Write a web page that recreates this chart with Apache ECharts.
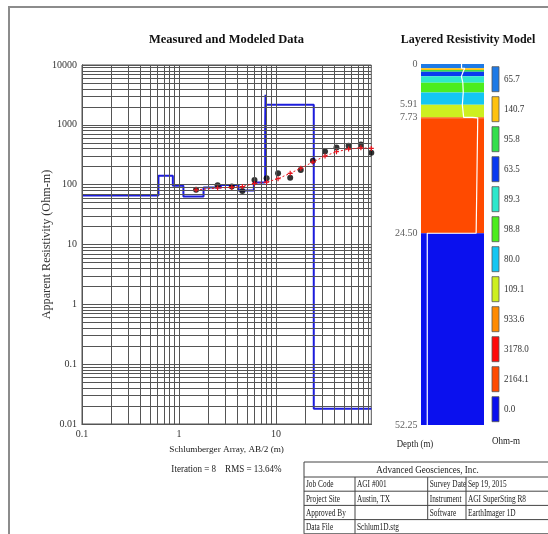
<!DOCTYPE html>
<html>
<head>
<meta charset="utf-8">
<style>
  html, body { margin: 0; padding: 0; background: #fff; }
  #chart { width: 548px; height: 534px; }
</style>
<script src="https://cdn.jsdelivr.net/npm/echarts@6/dist/echarts.min.js"></script>
</head>
<body>
<div id="chart"></div>
<script>
// Schlumberger sounding: electrode half-spacing AB/2 (m)
const ab2 = [1.5, 2.5, 3.5, 4.5, 6, 8, 10.5, 14, 18, 24, 32, 42, 56, 75, 96];
// Measured apparent resistivity (Ohm-m)
const measured = [82, 98, 93, 78, 120, 128, 155, 131, 176, 251, 360, 420, 447, 471, 341];
// Modeled apparent resistivity (Ohm-m)
const modeled = [82, 88, 90, 93, 105, 110, 126, 155, 188, 239, 301, 355, 393, 413, 404];

// Inverted layer model: resistivity (Ohm-m) and layer bottoms (m)
const layerRho = [65.7, 140.7, 95.8, 63.5, 89.3, 98.8, 80.0, 109.1, 933.6, 3178.0, 2164.1, 0.018];
const layerBottom = [0.614, 0.864, 1.11, 1.79, 2.70, 4.11, 5.91, 7.73, 7.79, 7.86, 24.50];
const modelDepth = 52.25;
const depthLabels = [0, 5.91, 7.73, 24.50, 52.25];
const layerColors = ['#1e7ae6', '#ffc20e', '#34df4c', '#0a3af0', '#2ee8cc', '#4ced1e',
                     '#14c6f2', '#cdef20', '#ff8a00', '#ff0a0a', '#ff4a00', '#0a10ee'];

// Axis tick labels for the sounding plot
const rhoTicks = ['0.01', '0.1', '1', '10', '100', '1000', '10000'];
const abTicks = ['0.1', '1', '10'];

// Title block
const companyName = 'Advanced Geosciences, Inc.';
const infoRows = [
  ['Job Code', 'AGI #001', 'Survey Date', 'Sep 19, 2015'],
  ['Project Site', 'Austin, TX', 'Instrument', 'AGI SuperSting R8'],
  ['Approved By', '', 'Software', 'EarthImager 1D'],
  ['Data File', 'Schlum1D.stg']
];
const iterationText = 'Iteration = 8    RMS = 13.64%';

const SERIF = '"Liberation Serif", "Times New Roman", serif';
const xMin = 0.1;
const xMax = Math.max(...ab2);
const yMin = 0.01, yMax = 10000;

// log-paper grid lines (1..9 x each decade)
const vLines = [], hLines = [];
for (let k = -1; k <= 2; k++) {
  for (let m = 1; m <= 9; m++) {
    const v = m * Math.pow(10, k);
    if (v >= xMin - 1e-9 && v <= xMax) vLines.push({ xAxis: v });
  }
}
for (let k = -2; k <= 4; k++) {
  for (let m = 1; m <= 9; m++) {
    const v = m * Math.pow(10, k);
    if (v >= yMin - 1e-12 && v <= yMax + 1e-9) hLines.push({ yAxis: v });
  }
}

function decadeLabel(list) {
  return function (v) {
    const l = Math.log10(v);
    if (Math.abs(l - Math.round(l)) > 1e-6) return '';
    const s = l < 0 ? v.toFixed(-Math.round(l)) : String(Math.round(v));
    return list.indexOf(s) >= 0 ? s : '';
  };
}

// Step curve of the layer model on the sounding plot
const stepPts = [];
for (let i = 0; i < layerRho.length; i++) {
  const top = i === 0 ? xMin : layerBottom[i - 1];
  const bot = i < layerBottom.length ? layerBottom[i] : xMax;
  stepPts.push([top, layerRho[i]], [bot, layerRho[i]]);
}

// Column: layers by depth, plus white resistivity trace
const lo = Math.min(...layerRho), hi = Math.max(...layerRho);
const padF = Math.pow(10, 0.65);
const x2Min = lo / padF, x2Max = hi * padF;
const colItems = [], tracePts = [];
for (let i = 0; i < layerRho.length; i++) {
  const top = i === 0 ? 0 : layerBottom[i - 1];
  const bot = i < layerBottom.length ? layerBottom[i] : modelDepth;
  colItems.push([top, bot, i]);
  tracePts.push([layerRho[i], top], [layerRho[i], bot]);
}

// narrow serif text helper
function label(x, y, text, size, opts) {
  opts = opts || {};
  return {
    type: 'text', x: x, y: y, scaleX: opts.sx || 1, silent: true,
    style: {
      text: text, font: (opts.bold ? 'bold ' : '') + size + 'px ' + SERIF,
      fill: opts.fill || '#222', align: opts.align || 'left', verticalAlign: 'middle'
    }
  };
}

const graphics = [];
graphics.push({
  type: 'polyline', silent: true,
  shape: { points: [[9, 534], [9, 7], [548, 7]] },
  style: { stroke: '#8c8c8c', lineWidth: 2, fill: null }
});
graphics.push(label(226.5, 40, 'Measured and Modeled Data', 12.5, { bold: true, align: 'center', fill: '#111' }));
graphics.push(label(468, 40, 'Layered Resistivity Model', 12.5, { bold: true, align: 'center', fill: '#111', sx: 0.96 }));
graphics.push(label(226.5, 469, iterationText, 10.5, { align: 'center', sx: 0.86 }));
graphics.push(label(415, 444, 'Depth (m)', 10.5, { align: 'center', sx: 0.84 }));
graphics.push(label(506, 441, 'Ohm-m', 10.5, { align: 'center', sx: 0.86 }));

layerRho.forEach(function (r, i) {
  const y = 66.7 + 30 * i;
  graphics.push({ type: 'rect', silent: true, shape: { x: 492, y: y, width: 7, height: 25 }, style: { fill: layerColors[i], stroke: '#555', lineWidth: 0.8 } });
  graphics.push(label(504, y + 12.5, r.toFixed(1), 10.5, { fill: '#333', sx: 0.86 }));
});

// info table
const tLeft = 304, tTop = 462, tRight = 560;
const colX = [304, 355, 427.7, 466];
const headH = 15, rowH = 14.2;
const tableSx = 0.7;
graphics.push({ type: 'rect', silent: true, shape: { x: tLeft, y: tTop, width: tRight - tLeft, height: headH + rowH * infoRows.length }, style: { fill: '#fff', stroke: '#444', lineWidth: 1 } });
graphics.push(label(427.5, tTop + headH / 2 + 0.5, companyName, 10.5, { align: 'center', sx: 0.86 }));
infoRows.forEach(function (row, r) {
  const y = tTop + headH + rowH * r;
  graphics.push({ type: 'line', silent: true, shape: { x1: tLeft, y1: y, x2: tRight, y2: y }, style: { stroke: '#444', lineWidth: 1 } });
  row.forEach(function (cell, c) {
    if (c > 0) {
      graphics.push({ type: 'line', silent: true, shape: { x1: colX[c], y1: y, x2: colX[c], y2: y + rowH }, style: { stroke: '#444', lineWidth: 1 } });
    }
    graphics.push(label(colX[c] + 2, y + rowH / 2 + 0.5, cell, 10.5, { sx: tableSx }));
  });
});

const chart = echarts.init(document.getElementById('chart'), null, { renderer: 'canvas' });
chart.setOption({
  animation: false,
  backgroundColor: '#fff',
  grid: [
    { left: 82, top: 65, width: 289.3, height: 359, show: true, borderColor: '#555', borderWidth: 1, backgroundColor: '#fff' },
    { left: 421, top: 64, width: 63, height: 361, show: false }
  ],
  xAxis: [
    {
      type: 'log', gridIndex: 0, min: xMin, max: xMax, logBase: 10,
      name: 'Schlumberger Array, AB/2 (m)', nameLocation: 'middle', nameGap: 21,
      nameTextStyle: { fontFamily: SERIF, fontSize: 9.2, color: '#222' },
      axisLine: { show: true, lineStyle: { color: '#222' } },
      axisTick: { show: false },
      splitLine: { show: false },
      axisLabel: { formatter: decadeLabel(abTicks), fontFamily: SERIF, fontSize: 10, color: '#333', margin: 5, hideOverlap: false }
    },
    { type: 'log', gridIndex: 1, min: x2Min, max: x2Max, show: false }
  ],
  yAxis: [
    {
      type: 'log', gridIndex: 0, min: yMin, max: yMax, logBase: 10,
      name: 'Apparent Resistivity (Ohm-m)', nameLocation: 'middle', nameGap: 29, nameRotate: 90,
      nameMoveOverlap: false,
      nameTextStyle: { fontFamily: SERIF, fontSize: 12.2, color: '#333' },
      axisLine: { show: true, lineStyle: { color: '#222' } },
      axisTick: { show: false },
      splitLine: { show: false },
      axisLabel: { formatter: decadeLabel(rhoTicks), fontFamily: SERIF, fontSize: 10, color: '#333', margin: 5, hideOverlap: false }
    },
    { type: 'value', gridIndex: 1, min: 0, max: modelDepth, inverse: true, show: false }
  ],
  series: [
    {
      name: 'grid', type: 'line', xAxisIndex: 0, yAxisIndex: 0, z: 1,
      data: [[xMin, yMin]], symbol: 'none', lineStyle: { width: 0 }, silent: true,
      markLine: {
        silent: true, symbol: ['none', 'none'], animation: false,
        label: { show: false }, emphasis: { disabled: true },
        lineStyle: { color: '#555', width: 1, type: 'solid' },
        data: vLines.concat(hLines)
      }
    },
    {
      name: 'model', type: 'line', xAxisIndex: 0, yAxisIndex: 0, z: 3,
      data: stepPts, symbol: 'none',
      lineStyle: { color: '#1c1cdc', width: 2 }
    },
    {
      name: 'measured', type: 'scatter', xAxisIndex: 0, yAxisIndex: 0, z: 4,
      data: ab2.map(function (x, i) { return [x, measured[i]]; }),
      symbol: 'circle', symbolSize: 6, itemStyle: { color: '#000' }
    },
    {
      name: 'calculated', type: 'line', xAxisIndex: 0, yAxisIndex: 0, z: 5,
      data: ab2.map(function (x, i) { return [x, modeled[i]]; }),
      symbol: 'path://M0.38,0H0.62V0.38H1V0.62H0.62V1H0.38V0.62H0V0.38H0.38Z', symbolSize: 5,
      itemStyle: { color: '#e8131c' },
      lineStyle: { color: '#e8131c', width: 1, type: [2, 2] }
    },
    {
      name: 'column', type: 'custom', xAxisIndex: 1, yAxisIndex: 1, z: 2,
      data: colItems,
      encode: { y: [0, 1] },
      renderItem: function (params, api) {
        const cs = params.coordSys;
        const y0 = api.coord([1, api.value(0)])[1];
        const y1 = api.coord([1, api.value(1)])[1];
        return {
          type: 'rect',
          shape: { x: cs.x, y: y0, width: cs.width, height: Math.max(y1 - y0, 0.5) },
          style: { fill: layerColors[api.value(2)] }
        };
      }
    },
    {
      name: 'trace', type: 'line', xAxisIndex: 1, yAxisIndex: 1, z: 3,
      data: tracePts, symbol: 'none',
      lineStyle: { color: '#ffffff', width: 1.2 }
    },
    {
      name: 'depths', type: 'scatter', xAxisIndex: 1, yAxisIndex: 1, z: 4,
      data: depthLabels.map(function (d) { return [x2Min, d]; }),
      symbol: 'circle', symbolSize: 1, itemStyle: { color: 'rgba(0,0,0,0)' },
      label: {
        show: true, position: 'left', distance: 3,
        fontFamily: SERIF, fontSize: 10, color: '#333',
        formatter: function (p) { const d = p.value[1]; return d === 0 ? '0' : d.toFixed(2); }
      }
    }
  ],
  graphic: graphics
});
</script>
</body>
</html>
